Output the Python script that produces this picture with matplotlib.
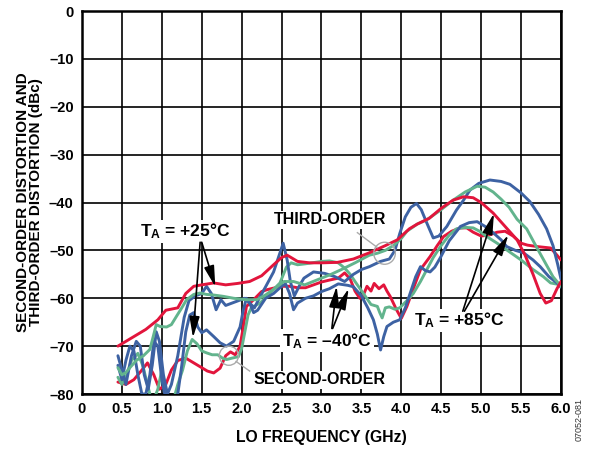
import matplotlib
matplotlib.use("Agg")
import matplotlib.pyplot as plt
from matplotlib.patches import Ellipse

plt.rcParams['font.family'] = ['Liberation Sans', 'DejaVu Sans']
plt.rcParams['font.weight'] = 'bold'
plt.rcParams['mathtext.fontset'] = 'custom'
plt.rcParams['mathtext.bf'] = 'Liberation Sans:bold'
plt.rcParams['mathtext.rm'] = 'Liberation Sans:bold'
plt.rcParams['mathtext.default'] = 'bf'

# ---------------- data ----------------
# Third-order, red
f_r3 = [0.45, 0.6, 0.8, 0.95, 1.05, 1.2, 1.3, 1.4, 1.5, 1.65, 1.8, 1.95, 2.1, 2.25, 2.4, 2.5, 2.57,
        2.7, 2.85, 3.0, 3.2, 3.4, 3.6, 3.8, 3.95, 4.1, 4.2, 4.35, 4.5, 4.65, 4.78, 4.9, 5.0, 5.15,
        5.3, 5.45, 5.55, 5.65, 5.74, 5.81, 5.88, 5.95, 6.0]
db_r3 = [-70, -68.5, -66.5, -64.5, -62.5, -62, -59, -57.5, -57.2, -56.8, -57.2, -56.9, -56.5, -55.3,
         -53, -51.5, -51, -52.3, -52.6, -52.6, -52.5, -51.8, -50.5, -49, -47.8, -45.5, -44.5, -43.3,
         -41.2, -39.5, -38.8, -39, -40, -42.2, -45, -47.8, -51, -55, -59, -61, -60.5, -58, -56.5]

# Third-order, green
f_g3 = [0.45, 0.5, 0.55, 0.6, 0.68, 0.77, 0.85, 0.9, 0.93, 0.98, 1.06, 1.12, 1.19, 1.25, 1.31, 1.4,
        1.48, 1.56, 1.64, 1.77, 1.9, 2.06, 2.19, 2.3, 2.36, 2.45, 2.53, 2.65, 2.79, 3.0, 3.12, 3.25,
        3.42, 3.6, 3.7, 3.8, 3.9, 4.0, 4.07, 4.2, 4.32, 4.49, 4.65, 4.8, 4.95, 5.05, 5.15, 5.25,
        5.35, 5.45, 5.57, 5.7, 5.8, 5.9, 6.0]
db_g3 = [-74.5, -76, -75.5, -74.5, -73, -72, -70.7, -67.5, -65.5, -65.9, -66, -65.5, -63.6, -62,
         -60.3, -59.2, -58.9, -59.2, -59.3, -59.6, -60, -60.3, -60.3, -59.3, -58.6, -57.5, -56.5,
         -56.5, -57.2, -55.8, -55, -54, -52.6, -51, -50.6, -50, -49, -47.5, -46, -44.5, -43.6, -41.6,
         -39.5, -37.8, -36.6, -36.8, -37.8, -39.3, -41, -43.5, -45.5, -49.5, -52.5, -55.5, -57.5]

# Third-order, blue
f_b3 = [0.45, 0.5, 0.55, 0.62, 0.68, 0.73, 0.78, 0.83, 0.88, 0.93, 0.97, 1.02, 1.07, 1.12, 1.2,
        1.28, 1.34, 1.42, 1.5, 1.56, 1.62, 1.68, 1.74, 1.8, 1.88, 1.96, 2.04, 2.1, 2.16, 2.22, 2.3,
        2.4, 2.46, 2.52, 2.57, 2.61, 2.66, 2.72, 2.78, 2.9, 3.04, 3.17, 3.29, 3.4, 3.5, 3.6, 3.74,
        3.85, 3.92, 3.98, 4.05, 4.12, 4.19, 4.25, 4.32, 4.4, 4.47, 4.57, 4.69, 4.78, 4.86, 4.97,
        5.11, 5.25, 5.36, 5.5, 5.61, 5.72, 5.82, 5.9, 5.96, 6.0]
db_b3 = [-72, -75, -78, -72, -69, -70, -76, -79, -74, -67, -69, -76, -80, -78, -72, -64, -60.5,
         -59.5, -59, -57.5, -59, -62.4, -60.3, -61.5, -61, -60.5, -60, -61, -62, -60, -57.6, -54.5,
         -51.5, -48.5, -52, -56.5, -59.5, -57.5, -55.8, -54.5, -54.8, -55.5, -56.5, -55, -54, -53.4,
         -52.3, -51.8, -50, -46.5, -43, -41, -40.2, -41.5, -44.3, -47.4, -47, -45, -41.6, -39.5,
         -37.4, -36, -35.3, -35.6, -36.2, -38, -39.8, -42.5, -45.5, -49, -53, -56]

# Second-order, red
f_r2 = [0.45, 0.55, 0.65, 0.75, 0.82, 0.9, 0.97, 1.05, 1.12, 1.2, 1.3, 1.4, 1.48, 1.57, 1.65, 1.73,
        1.8, 1.86, 1.92, 1.98, 2.02, 2.06, 2.15, 2.25, 2.32, 2.42, 2.5, 2.6, 2.7, 2.8, 2.9, 3.0,
        3.1, 3.21, 3.29, 3.36, 3.42, 3.48, 3.52, 3.57, 3.62, 3.66, 3.72, 3.78, 3.82, 3.86, 3.94,
        4.0, 4.07, 4.15, 4.24, 4.36, 4.45, 4.53, 4.63, 4.74, 4.82, 4.9, 5.0, 5.1, 5.2, 5.3, 5.4,
        5.5, 5.58, 5.7, 5.87, 5.95, 6.0]
db_r2 = [-77.5, -78, -77, -75, -73.5, -76, -79, -78, -75, -73, -72.5, -73.5, -74.3, -75.2, -75.6,
         -74.6, -72, -71.2, -71.8, -70, -66, -61.7, -60.3, -58.6, -58.2, -57.8, -57.5, -57.5, -57.8,
         -57.8, -57.2, -56.6, -56.2, -55.8, -54.7, -56, -58.5, -60, -59.5, -57.5, -58.5, -56.9, -58,
         -57.2, -58.5, -59.6, -62.4, -64.2, -61.7, -58, -54, -51.3, -49, -47.1, -46, -45.3, -45.3,
         -46.2, -47, -46.8, -46.2, -46, -47, -48.5, -48.9, -49.2, -49.5, -51, -52]

# Second-order, green
f_g2 = [0.45, 0.5, 0.56, 0.62, 0.7, 0.76, 0.82, 0.88, 0.95, 1.0, 1.05, 1.1, 1.15, 1.2, 1.26, 1.32,
        1.38, 1.44, 1.5, 1.56, 1.63, 1.7, 1.76, 1.81, 1.88, 1.96, 2.0, 2.04, 2.08, 2.12, 2.23, 2.35,
        2.48, 2.56, 2.62, 2.7, 2.8, 3.0, 3.1, 3.21, 3.29, 3.36, 3.42, 3.55, 3.62, 3.7, 3.73, 3.76,
        3.8, 3.85, 3.92, 3.98, 4.07, 4.15, 4.24, 4.32, 4.4, 4.49, 4.6, 4.69, 4.8, 4.9, 4.98, 5.06,
        5.2, 5.32, 5.5, 5.65, 5.78, 5.87, 6.0]
db_g2 = [-76.5, -78, -76, -73, -71.5, -74, -78, -82, -79, -75, -79, -82, -81, -78, -75, -71, -68.6,
         -69.5, -71, -71.4, -71.8, -71.8, -72.5, -72.8, -72.5, -72.2, -70.5, -67, -63.5, -62, -61,
         -59, -56.8, -53.5, -52.6, -53, -52.8, -52.3, -52.2, -52.6, -53.7, -55, -56.5, -59.6, -61.3,
         -61.7, -63, -64.1, -62, -61.8, -62.3, -62, -60.5, -59, -56.5, -54, -51.5, -49.2, -46.8,
         -45.5, -45.2, -45.3, -46, -47, -48.5, -49.9, -52, -54, -55.5, -56.8, -57.2]

# Second-order, blue
f_b2 = [0.45, 0.5, 0.55, 0.6, 0.65, 0.7, 0.75, 0.8, 0.85, 0.9, 0.95, 1.0, 1.05, 1.1, 1.2, 1.25,
        1.3, 1.35, 1.4, 1.45, 1.5, 1.56, 1.65, 1.73, 1.81, 1.9, 1.98, 2.02, 2.06, 2.1, 2.15, 2.2,
        2.3, 2.4, 2.5, 2.55, 2.6, 2.65, 2.7, 2.8, 2.9, 3.0, 3.1, 3.21, 3.33, 3.4, 3.5, 3.58, 3.65,
        3.7, 3.74, 3.78, 3.82, 3.9, 3.98, 4.05, 4.11, 4.18, 4.24, 4.3, 4.36, 4.42, 4.49, 4.6, 4.74,
        4.85, 4.95, 5.05, 5.15, 5.25, 5.32, 5.43, 5.53, 5.65, 5.74, 5.85, 5.95, 6.0]
db_b2 = [-74, -77, -73, -70, -71, -76, -80, -80, -76, -69, -70, -77, -81, -82, -80, -74, -67, -63.5,
         -63, -66, -67.2, -66.6, -68, -69.3, -70, -69, -66, -62.5, -60, -61, -63, -62.5, -60, -59,
         -57.5, -57, -59, -62.4, -61, -60, -59.5, -58.6, -58, -57, -57.3, -57.6, -59.5, -62, -64.5,
         -67.5, -70.8, -68, -65.9, -65, -64.5, -62, -59, -55.5, -53.4, -54.2, -54.5, -53.5, -51.5,
         -48, -45, -44.2, -44, -45, -46.3, -47.8, -49.2, -50, -50.5, -52, -53.4, -55.5, -56.8, -57.7]

x_ticks = [0, 0.5, 1.0, 1.5, 2.0, 2.5, 3.0, 3.5, 4.0, 4.5, 5.0, 5.5, 6.0]
x_tick_labels = ['0', '0.5', '1.0', '1.5', '2.0', '2.5', '3.0', '3.5', '4.0', '4.5', '5.0', '5.5', '6.0']
y_ticks = [0, -10, -20, -30, -40, -50, -60, -70, -80]
y_tick_labels = ['0', '–10', '–20', '–30', '–40', '–50', '–60', '–70', '–80']

BLUE = '#3D62A3'
RED = '#E2153C'
GREEN = '#62B48D'

# ---------------- figure ----------------
fig = plt.figure(figsize=(5.92, 4.53), dpi=100)
ax = fig.add_axes([0.1385, 0.1302, 0.8091, 0.8455])

ax.set_xlim(0, 6.0)
ax.set_ylim(-80, 0)
ax.set_xticks(x_ticks)
ax.set_xticklabels(x_tick_labels)
ax.set_yticks(y_ticks)
ax.set_yticklabels(y_tick_labels)
ax.tick_params(length=0, labelsize=10.5, pad=6)
for lab in ax.get_xticklabels() + ax.get_yticklabels():
    lab.set_fontweight('bold')
ax.grid(True, color='black', lw=1.2, zorder=0)
ax.set_axisbelow(True)
for s in ax.spines.values():
    s.set_linewidth(1.8)
    s.set_color('black')

lw = 2.1
for f, d, c in [(f_r2, db_r2, RED), (f_g2, db_g2, GREEN), (f_b2, db_b2, BLUE),
                (f_b3, db_b3, BLUE), (f_g3, db_g3, GREEN), (f_r3, db_r3, RED)]:
    ax.plot(f, d, color=c, lw=lw, solid_joinstyle='round', solid_capstyle='round', zorder=3)

ax.set_xlabel('LO FREQUENCY (GHz)', fontsize=11.3, fontweight='bold', labelpad=10)
ax.set_ylabel('SECOND-ORDER DISTORTION AND\nTHIRD-ORDER DISTORTION (dBc)', fontsize=11,
              fontweight='bold', labelpad=4, linespacing=0.95)

box = dict(boxstyle='square,pad=0.1', fc='white', ec='none')
tsize = 11.5
asize = 12.5
arrow = dict(arrowstyle='-|>,head_length=0.9,head_width=0.22', lw=1.2, color='black',
             mutation_scale=14, shrinkA=0, shrinkB=0)

# +25 C
ax.text(1.29, -46, r'T$_{A}$ = +25°C', fontsize=asize, fontweight='bold', ha='center',
        va='center', bbox=box, zorder=5)
ax.annotate('', xy=(1.67, -57.6), xytext=(1.5, -48.3), arrowprops=arrow, zorder=6)
ax.annotate('', xy=(1.39, -68.2), xytext=(1.48, -48.3), arrowprops=arrow, zorder=6)

# -40 C
ax.text(3.07, -68.9, r'T$_{A}$ = –40°C', fontsize=asize, fontweight='bold', ha='center',
        va='center', bbox=box, zorder=5)
ax.annotate('', xy=(3.19, -57.5), xytext=(3.13, -66.3), arrowprops=arrow, zorder=6)
ax.annotate('', xy=(3.34, -58.0), xytext=(3.14, -66.3), arrowprops=arrow, zorder=6)

# +85 C
ax.text(4.73, -64.6, r'T$_{A}$ = +85°C', fontsize=asize, fontweight='bold', ha='center',
        va='center', bbox=box, zorder=5)
ax.annotate('', xy=(5.16, -42.3), xytext=(4.77, -62.7), arrowprops=arrow, zorder=6)
ax.annotate('', xy=(5.34, -46.8), xytext=(4.79, -62.7), arrowprops=arrow, zorder=6)

# THIRD-ORDER
ax.text(3.11, -43.6, 'THIRD-ORDER', fontsize=tsize, fontweight='bold', ha='center',
        va='center', bbox=box, zorder=5)
ax.plot([3.45, 3.7], [-46.3, -49.4], color='#AAAAAA', lw=1.0, zorder=6)
ax.add_patch(Ellipse((3.79, -50.6), 0.27, 4.6, fill=False, ec='#AAAAAA', lw=1.0, zorder=6))

# SECOND-ORDER
ax.text(2.98, -77.0, 'SECOND-ORDER', fontsize=tsize, fontweight='bold', ha='center',
        va='center', bbox=box, zorder=5)
ax.plot([2.1, 1.93], [-75.2, -73.2], color='#AAAAAA', lw=1.0, zorder=6)
ax.add_patch(Ellipse((1.84, -72.0), 0.24, 4.0, fill=False, ec='#AAAAAA', lw=1.0, zorder=6))

fig.text(0.978, 0.075, '07052-081', rotation=90, fontsize=6.5, fontweight='normal',
         color='#333333', ha='center', va='center')

fig.savefig('out.png', dpi=100)
